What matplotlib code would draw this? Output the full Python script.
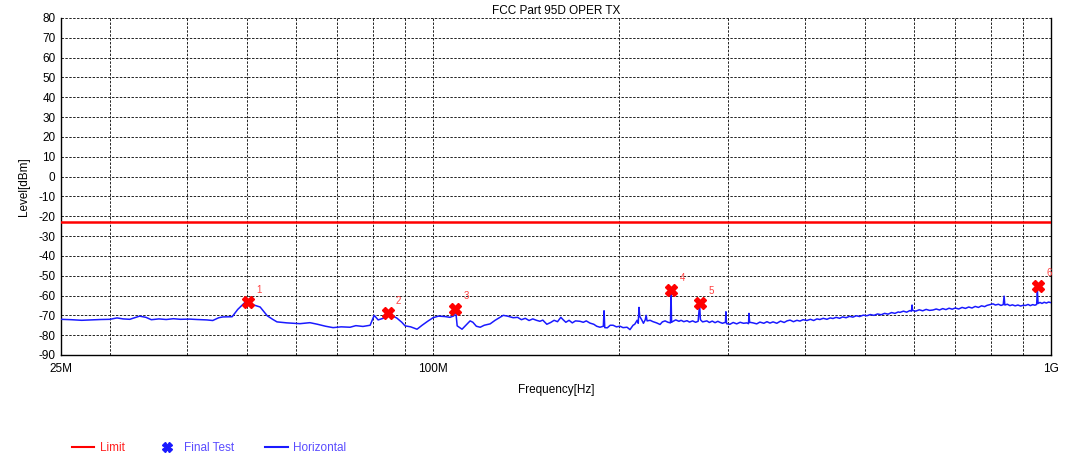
import matplotlib
matplotlib.use("Agg")
import matplotlib.pyplot as plt
from matplotlib.lines import Line2D
from matplotlib.ticker import FixedLocator, NullFormatter

plt.rcParams.update({"font.family": ["Liberation Sans", "DejaVu Sans"], "font.size": 8.5,
                     "axes.unicode_minus": False})

# trace (MHz, dBm)
freq_mhz = [
    25, 26, 27, 28, 29, 30, 30.8, 31.5, 32.3, 33.5, 34.3, 35.0, 36.0, 37.0, 38.0, 39.0,
    40.4, 41.5, 43.0, 44.0, 45.0, 45.7, 47.3, 48.3, 49.6, 50.4, 51.3, 52.5, 53.9, 55.0,
    55.9, 58.0, 60.9, 63.2, 65.0, 67.0, 68.9, 71.0, 73.4, 75.0, 77.0, 79.1, 80.3, 81.5,
    83.0, 84.6, 86.0, 87.4, 89.0, 90.1, 92.0, 94.2, 96.0, 98.0, 100.0, 102.0, 104.5,
    106.5, 108.0, 108.7, 109.4, 111.4, 113.0, 114.8, 116.0, 117.5, 119.2, 121.0, 123.7,
    126.0, 129.9, 132.0, 134.8, 137.0, 139.0, 141.0, 143.0, 145.0, 147.0, 148.9, 150.5,
    152.8, 155.0, 157.0, 159.0, 161.0, 162.1, 164.0, 166.0, 168.0, 170.0, 172.9, 175.0,
    177.0, 179.4, 182.0, 184.0, 186.3, 188.6, 189.1, 189.6, 191.4, 193.5, 195.6, 198.0,
    200.7, 203.0, 206.0, 208.3, 210.7, 212.0, 213.9, 214.8, 215.4, 216.0, 217.8, 219.0,
    220.5, 221.2, 222.0, 224.5, 227.0, 230.0, 233.0, 235.0, 237.4, 240.0, 242.2, 242.7,
    243.2, 244.6, 247.0, 250.0, 252.0, 254.5, 257.6, 260.0, 263.0, 266.0, 268.5, 270.0,
    270.8, 273.0, 277.4, 280.0, 283.0, 286.0, 289.0, 291.0, 294.0, 297.3, 297.8, 298.5,
    302.3, 306.0, 310.0, 314.0, 318.0, 322.0, 324.0, 324.5, 325.3, 329.5, 334.0, 338.0,
    343.0, 347.0, 350.9, 355.0, 360.0, 365.0, 370.0, 373.9, 378.2, 383.0, 388.0, 392.4,
    397.0, 402.8, 408.0, 413.0, 418.0, 422.7, 428.0, 434.0, 439.0, 443.8, 449.0, 455.0,
    460.0, 466.0, 472.0, 478.0, 484.0, 490.0, 497.0, 503.5, 510.0, 517.0, 524.0, 531.0,
    538.0, 545.0, 552.0, 559.0, 566.0, 569.7, 577.0, 584.0, 591.0, 594.5, 595.9, 597.0,
    604.0, 612.0, 620.0, 628.0, 636.0, 644.3, 652.0, 660.0, 668.0, 676.0, 684.0, 692.0,
    700.0, 709.0, 718.0, 727.0, 736.0, 745.0, 754.0, 763.0, 772.0, 781.0, 787.5, 796.0,
    805.5, 813.0, 822.0, 830.0, 837.0, 839.6, 842.0, 850.0, 858.0, 866.0, 875.0, 884.0,
    893.0, 902.0, 910.0, 918.0, 926.0, 934.0, 942.0, 948.0, 950.5, 953.0, 960.0, 967.0,
    975.0, 983.0, 991.0, 1000.0,
]
level_dbm = [
    -72.0, -72.2, -72.5, -72.3, -72.1, -72.0, -71.3, -71.8, -72.0, -70.4, -71.0, -72.2,
    -71.8, -72.1, -71.7, -72.0, -71.9, -72.1, -72.3, -72.6, -71.2, -70.8, -70.7, -67.0,
    -63.5, -63.4, -64.8, -65.8, -70.2, -72.0, -73.3, -73.8, -74.2, -73.7, -74.5, -75.5,
    -76.2, -75.8, -76.0, -75.2, -75.6, -75.0, -70.0, -72.3, -71.5, -69.5, -70.2, -71.4,
    -73.5, -75.3, -75.8, -77.0, -75.0, -73.0, -71.2, -70.4, -70.6, -71.0, -70.3, -66.5,
    -75.3, -77.0, -75.0, -72.8, -73.5, -75.5, -76.0, -75.0, -74.3, -72.5, -70.0, -70.4,
    -71.2, -71.0, -72.2, -71.5, -72.6, -71.8, -72.5, -73.0, -72.4, -74.5, -73.6, -72.5,
    -73.2, -71.0, -72.0, -73.5, -72.5, -73.8, -72.8, -73.0, -73.5, -72.8, -73.9, -74.5,
    -75.5, -76.0, -75.5, -67.7, -76.2, -76.3, -75.0, -75.0, -75.8, -75.5, -76.2, -76.0,
    -77.2, -75.0, -74.5, -72.5, -74.0, -66.0, -70.5, -72.5, -74.0, -72.2, -70.0, -72.8,
    -72.5, -73.2, -73.8, -74.6, -73.3, -72.8, -73.5, -73.8, -58.0, -73.5, -73.0, -72.3,
    -73.0, -72.5, -73.2, -72.7, -73.4, -72.8, -73.5, -73.0, -64.5, -72.2, -73.3, -72.8,
    -73.6, -72.9, -73.7, -73.0, -73.5, -74.0, -73.5, -68.2, -74.2, -74.5, -73.6, -74.3,
    -73.5, -74.0, -73.8, -74.2, -69.0, -73.5, -73.8, -74.3, -73.4, -74.0, -73.2, -73.9,
    -73.3, -74.0, -72.9, -73.6, -72.8, -72.4, -73.2, -72.5, -72.9, -72.2, -72.6, -72.0,
    -72.6, -71.8, -72.1, -71.5, -72.0, -71.3, -71.6, -71.0, -71.5, -70.8, -71.2, -70.5,
    -70.9, -70.2, -70.6, -69.9, -70.2, -69.6, -70.0, -69.3, -69.7, -69.0, -69.4, -68.6,
    -69.0, -68.3, -68.5, -67.9, -68.4, -67.6, -67.9, -64.8, -67.5, -67.9, -67.2, -67.7,
    -67.0, -67.5, -67.3, -66.8, -67.3, -66.6, -67.1, -66.4, -66.9, -66.3, -66.8, -66.0,
    -66.5, -65.8, -66.3, -65.5, -66.0, -65.2, -65.6, -65.0, -64.6, -64.2, -64.8, -64.4,
    -65.0, -64.6, -60.3, -64.8, -64.4, -65.1, -64.7, -65.2, -64.8, -65.3, -64.9, -65.0,
    -64.5, -65.1, -64.6, -64.9, -64.5, -57.0, -64.0, -63.5, -64.0, -63.4, -63.8, -63.3,
    -63.6,
]

# final test points
final_mhz = [50.2, 84.4, 108.5, 243.0, 270.3, 953.0]
final_dbm = [-63.4, -69.0, -66.6, -57.4, -64.0, -55.3]
final_ids = ["1", "2", "3", "4", "5", "6"]

limit_dbm = -23.0

fig = plt.figure(figsize=(10.67, 4.59), dpi=100)
ax = fig.add_axes([0.0572, 0.2266, 0.9278, 0.7342])

ax.axhline(limit_dbm, color="#ff0000", lw=1.8, zorder=3)
ax.plot([f * 1e6 for f in freq_mhz], level_dbm, color="#1a1aff", lw=1.1, zorder=4)
ax.plot([f * 1e6 for f in final_mhz], final_dbm, "X", color="#ff0000", ms=8,
        mec="#ff0000", ls="none", zorder=5)
for f, v, s in zip(final_mhz, final_dbm, final_ids):
    ax.annotate(s, (f * 1e6, v), xytext=(6, 7), textcoords="offset points",
                color="#ff4040", fontsize=7)

ax.set_xscale("log")
ax.set_xlim(25e6, 1e9)
ax.set_ylim(-90, 80)
ax.xaxis.set_major_locator(FixedLocator([25e6, 100e6, 1e9]))
ax.set_xticklabels(["25M", "100M", "1G"])
ax.xaxis.set_minor_locator(FixedLocator([m * 1e6 for m in
                                         [30, 40, 50, 60, 70, 80, 90, 200, 300, 400, 500, 600, 700, 800, 900]]))
ax.xaxis.set_minor_formatter(NullFormatter())
ax.set_yticks(range(-90, 81, 10))
ax.tick_params(which="both", length=0, pad=4, labelsize=8.5)
ax.tick_params(axis="x", pad=6)

ax.grid(True, which="both", color="#222222", ls=(0, (2.5, 1.5)), lw=0.7)
ax.spines["top"].set_visible(False)
for s in ["left", "bottom", "right"]:
    ax.spines[s].set_linewidth(1.0)

ax.set_title("FCC Part 95D OPER TX", fontsize=8.5, pad=3)
ax.set_ylabel("Level[dBm]", labelpad=6)
ax.set_xlabel("Frequency[Hz]", labelpad=6)

handles = [
    Line2D([], [], color="#ff0000", lw=1.5),
    Line2D([], [], marker="X", color="#1a1aff", ls="none", ms=7),
    Line2D([], [], color="#1a1aff", lw=1.5),
]
leg = fig.legend(handles, ["Limit", "Final Test", "Horizontal"], loc="center left",
                 bbox_to_anchor=(0.0675, 0.024), ncol=3, frameon=False,
                 handlelength=1.9, handletextpad=0.5, columnspacing=2.6, fontsize=8.5,
                 borderaxespad=0, borderpad=0)
for t, c in zip(leg.get_texts(), ["#ff2020", "#5a4cff", "#5a4cff"]):
    t.set_color(c)

fig.savefig("out.png", dpi=100)
